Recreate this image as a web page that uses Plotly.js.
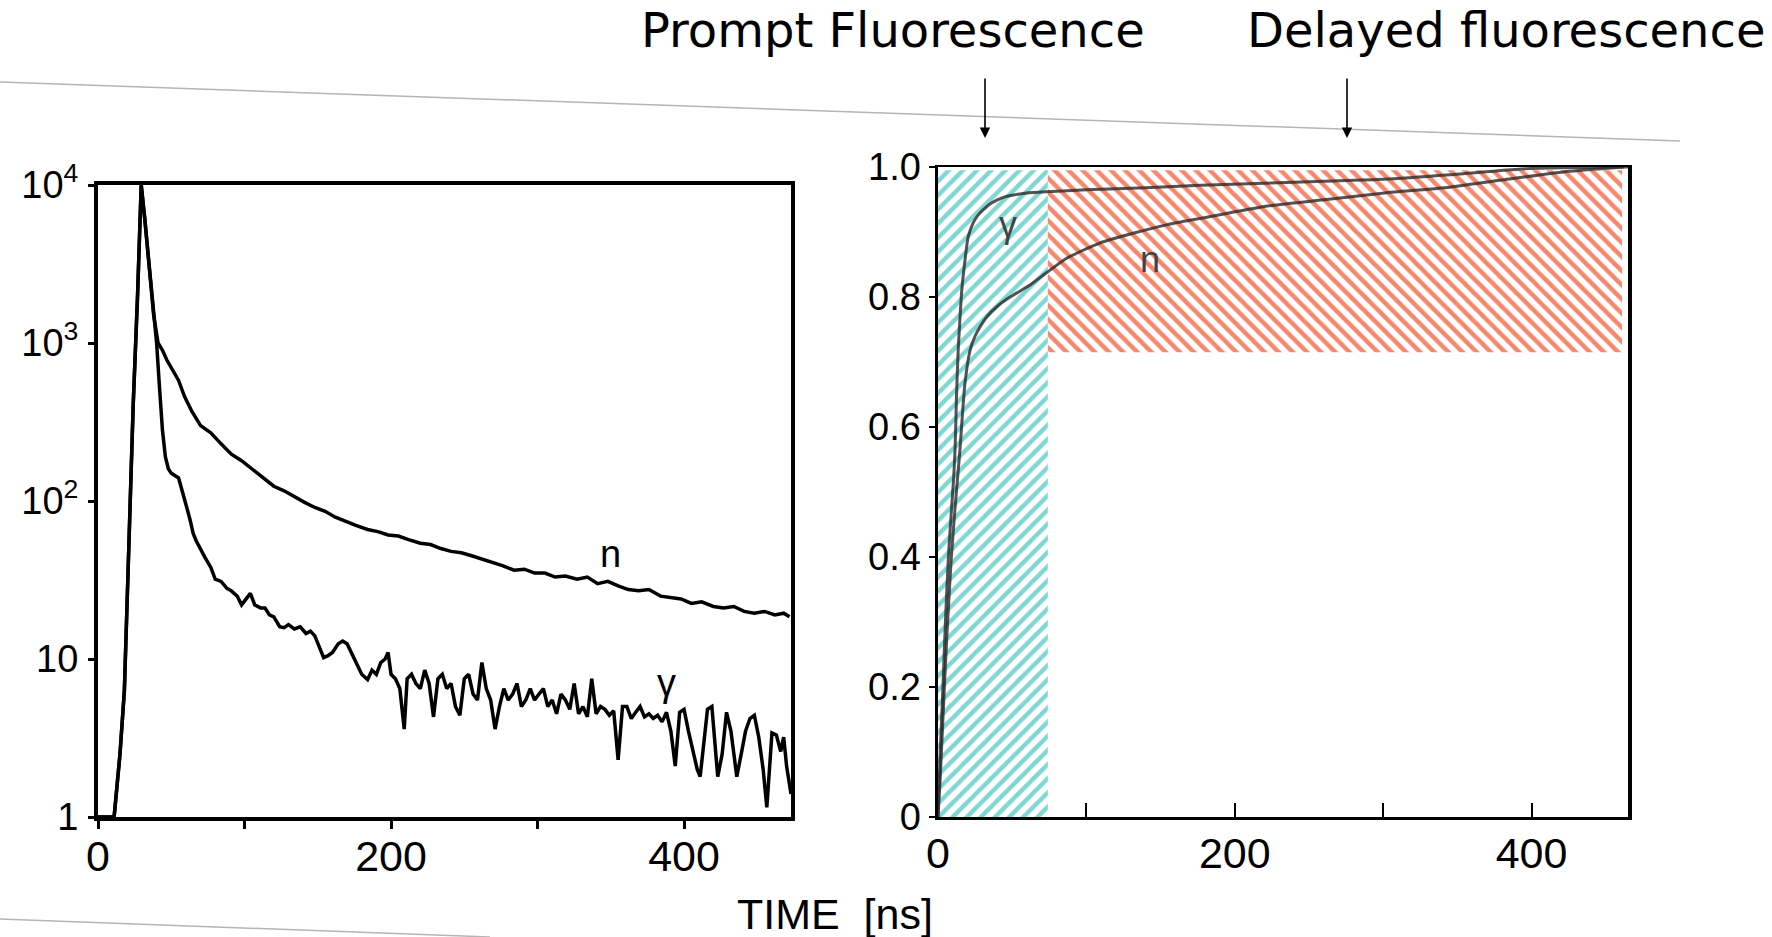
<!DOCTYPE html>
<html><head><meta charset="utf-8">
<script src="https://cdn.plot.ly/plotly-3.0.1.min.js"></script>
<style>html,body{margin:0;padding:0;background:#fff}</style>
</head><body><div id="chart" style="width:1772px;height:937px"></div>
<script>
// ---------- Left panel: fluorescence decay (counts, log scale) ----------
const nTime = [0, 11, 15, 18, 21, 24, 27, 29.5, 32, 35,
 38, 41, 44, 47, 51, 55, 59, 64, 70, 77,
 84, 91, 98, 105, 112, 120, 127, 134, 141, 148,
 155, 162, 169, 176, 184, 191, 198, 205, 212, 220,
 227, 234, 241, 248, 255, 262, 269, 276, 284, 291,
 298, 305, 312, 319, 327, 334, 341, 348, 355, 362,
 369, 376, 384, 391, 398, 405, 412, 420, 427, 434,
 441, 448, 455, 462, 468, 472];
const nCounts = [1, 1, 2.5, 6.3, 50, 400, 2000, 10000, 6000, 3000,
 1500, 1000, 900, 780, 680, 580, 460, 370, 300, 270,
 230, 198, 180, 160, 143, 124, 116, 106, 98, 91,
 86, 79, 74, 70, 66, 64, 61, 60, 57, 54,
 53, 50, 48, 47, 45, 43, 41, 39, 36.5, 37,
 35, 35, 33, 33.5, 32, 33, 30, 31, 29, 27.5,
 27, 27.5, 25, 24.5, 24, 22.5, 23, 21.5, 21, 21.5,
 20, 19.5, 20, 19, 19.5, 18.5];

const gammaTime = [0, 11, 15, 18, 21, 24, 27, 29.5, 32, 35,
 38, 40, 42, 44, 46, 48, 50, 53, 55, 57,
 59, 61, 63, 65, 67, 70, 73, 77, 80, 84,
 88, 91, 95, 98, 101, 104, 107, 111, 114, 117,
 120, 124, 127, 130, 134, 138, 142, 145, 148, 151,
 154, 157, 160, 164, 167, 170, 173, 176, 180, 184,
 187, 190, 193, 196, 198, 200, 203, 206, 209, 211,
 214, 217, 220, 223, 226, 229, 232, 235, 238, 241,
 244, 247, 250, 253, 256, 259, 262, 265, 268, 271,
 274, 277, 280, 283, 286, 289, 292, 295, 298, 301,
 304, 307, 310, 313, 316, 319, 322, 325, 328, 331,
 334, 337, 340, 343, 346, 349, 352, 355, 358, 361,
 364, 367, 370, 373, 376, 379, 382, 385, 388, 391,
 394, 397, 400, 403, 406, 409, 411, 414, 416, 419,
 421, 423, 426, 429, 432, 434, 436, 439, 442, 445,
 448, 451, 454, 456.5, 458, 460, 463, 466, 468, 470,
 473];
const gammaCounts = [1, 1, 2.5, 6.3, 50, 400, 2000, 10000, 6000, 3000,
 1500, 1000, 520, 280, 190, 160, 150, 145, 140, 120,
 100, 88, 75, 62, 56, 49, 44, 38, 32, 31,
 28, 27, 25, 22, 24, 26, 22, 21, 21, 19,
 18.5, 16, 15.8, 16.5, 15.5, 16, 14.5, 15, 14, 12,
 10.2, 10.5, 11, 12.5, 13, 12.5, 11, 9.5, 8, 7.4,
 8.5, 8, 9.5, 10, 11, 8, 7.5, 6.5, 3.6, 7.5,
 8, 7, 6.5, 8.5, 7, 4.3, 7.5, 8, 6.5, 7,
 5, 4.4, 7.5, 8, 6, 5.5, 9.5, 6.5, 5.5, 3.6,
 5, 6.5, 5.5, 6, 7, 5, 5.5, 6.5, 5.5, 6,
 6.5, 5, 5.5, 4.5, 6, 5.5, 4.8, 7, 4.5, 5,
 4.3, 7.5, 4.5, 5, 4.8, 4.4, 4.7, 2.3, 5, 5,
 4.2, 4.6, 5, 4.3, 4.5, 4.2, 4.4, 4.0, 4.6, 3.5,
 2.1, 4.6, 4.8, 3.5, 2.6, 2.0, 1.8, 3.5, 4.8, 5.0,
 3.0, 1.8, 2.5, 4.6, 3.5, 2.4, 1.8, 2.5, 3.5, 4.2,
 4.4, 3.2, 2.0, 1.15, 2.0, 3.4, 3.3, 2.6, 3.2, 2.1,
 1.4];

// ---------- Right panel: cumulative (normalised) light output ----------
const cumGammaTime = [0, 1.5, 3, 5, 7, 9, 10.5, 11.5, 12.5, 13.6,
 15, 16, 18.2, 20.3, 23.7, 27, 30.4, 35, 39.6, 45,
 50.8, 60, 73.5, 100, 140, 177, 220, 260, 300, 345,
 393, 420, 465];
const cumGamma = [0, 0.1, 0.18, 0.3, 0.4, 0.47, 0.52, 0.565, 0.65, 0.718,
 0.775, 0.81, 0.857, 0.892, 0.914, 0.926, 0.934, 0.943, 0.949, 0.954,
 0.957, 0.96, 0.962, 0.965, 0.968, 0.972, 0.975, 0.978, 0.981, 0.988,
 0.997, 0.999, 1.0];
const cumNTime = [0, 1.5, 3.5, 6, 9, 12, 14.8, 16.5, 18.2, 21.6,
 25, 28.3, 33, 39.6, 46, 53, 63, 73.5, 87, 109,
 131.5, 154, 177, 222, 262, 301, 345, 380, 420, 445,
 462];
const cumN = [0, 0.06, 0.16, 0.28, 0.4, 0.49, 0.565, 0.62, 0.668, 0.718,
 0.74, 0.754, 0.77, 0.785, 0.796, 0.806, 0.82, 0.838, 0.86, 0.883,
 0.898, 0.911, 0.921, 0.94, 0.95, 0.96, 0.969, 0.98, 0.992, 0.997,
 1.0];

// time windows (ns) and fraction bands
const promptWindow = [0, 74];
const promptBand = [0, 0.995];
const delayedWindow = [74, 461];
const delayedBand = [0.715, 0.995];

// tick labels
const logTickVals = [1, 10, 100, 1000, 10000];
const logTickText = ['1', '10', '10<sup>2</sup>', '10<sup>3</sup>', '10<sup>4</sup>'];
const timeTickVals = [0, 100, 200, 300, 400];
const timeTickText = ['0', '', '200', '', '400'];
const fracTickVals = [0, 0.2, 0.4, 0.6, 0.8, 1.0];
const fracTickText = ['0', '0.2', '0.4', '0.6', '0.8', '1.0'];

const W = 1772, H = 937;
const px = v => v / W;
const py = v => 1 - v / H;
const FONT = 'Liberation Sans, Arial, sans-serif';

function rect(xr, yr) {
  return { x: [xr[0], xr[1], xr[1], xr[0], xr[0]], y: [yr[0], yr[0], yr[1], yr[1], yr[0]] };
}
const pr = rect(promptWindow, promptBand);
const dr = rect(delayedWindow, delayedBand);

const traces = [
  { x: nTime, y: nCounts, xaxis: 'x', yaxis: 'y', mode: 'lines',
    line: { color: '#000', width: 3.5 }, hoverinfo: 'skip' },
  { x: gammaTime, y: gammaCounts, xaxis: 'x', yaxis: 'y', mode: 'lines',
    line: { color: '#000', width: 3.5 }, hoverinfo: 'skip' },
  { x: pr.x, y: pr.y, xaxis: 'x2', yaxis: 'y2', mode: 'lines', fill: 'toself',
    line: { width: 0, color: 'rgba(0,0,0,0)' }, fillcolor: 'rgba(255,255,255,0)',
    fillpattern: { shape: '/', fgcolor: '#7fd6d2', bgcolor: 'rgba(255,255,255,0)', size: 10, solidity: 0.45, fillmode: 'replace' },
    hoverinfo: 'skip' },
  { x: dr.x, y: dr.y, xaxis: 'x2', yaxis: 'y2', mode: 'lines', fill: 'toself',
    line: { width: 0, color: 'rgba(0,0,0,0)' }, fillcolor: 'rgba(255,255,255,0)',
    fillpattern: { shape: '\\', fgcolor: '#f7876c', bgcolor: 'rgba(255,255,255,0)', size: 10, solidity: 0.45, fillmode: 'replace' },
    hoverinfo: 'skip' },
  { x: cumGammaTime, y: cumGamma, xaxis: 'x2', yaxis: 'y2', mode: 'lines',
    line: { color: 'rgba(40,40,40,0.8)', width: 3, shape: 'spline', smoothing: 0.6 }, hoverinfo: 'skip' },
  { x: cumNTime, y: cumN, xaxis: 'x2', yaxis: 'y2', mode: 'lines',
    line: { color: 'rgba(40,40,40,0.8)', width: 3, shape: 'spline', smoothing: 0.6 }, hoverinfo: 'skip' }
];

const axCommon = { showgrid: false, zeroline: false, showline: true, linecolor: '#000', mirror: true, tickcolor: '#000', fixedrange: true };

const layout = {
  width: W, height: H, margin: { l: 0, r: 0, t: 0, b: 0 },
  paper_bgcolor: '#fff', plot_bgcolor: 'rgba(0,0,0,0)', showlegend: false,
  xaxis: Object.assign({}, axCommon, {
    domain: [px(98), px(791)], range: [0, 473], anchor: 'y',
    linewidth: 4, ticks: 'outside', ticklen: 8, tickwidth: 3,
    tickvals: timeTickVals, ticktext: timeTickText, ticklabelstandoff: -10,
    tickfont: { family: FONT, size: 43, color: '#000' }
  }),
  yaxis: Object.assign({}, axCommon, {
    domain: [py(817), py(185)], type: 'log', range: [0, 4], anchor: 'x',
    linewidth: 4, ticks: 'outside', ticklen: 6, tickwidth: 3,
    tickvals: logTickVals, ticktext: logTickText, ticklabelstandoff: 2,
    tickfont: { family: FONT, size: 38, color: '#000' }
  }),
  xaxis2: Object.assign({}, axCommon, {
    domain: [px(938), px(1628)], range: [0, 465], anchor: 'y2',
    linewidth: 2.5, ticks: 'inside', ticklen: 14, tickwidth: 2,
    tickvals: timeTickVals, ticktext: timeTickText, ticklabelstandoff: -3,
    tickfont: { family: FONT, size: 43, color: '#000' }
  }),
  yaxis2: Object.assign({}, axCommon, {
    domain: [py(817), py(167)], range: [0, 1], anchor: 'x2',
    linewidth: 3.5, ticks: 'outside', ticklen: 6, tickwidth: 2,
    tickvals: fracTickVals, ticktext: fracTickText, ticklabelstandoff: 0,
    tickfont: { family: FONT, size: 38, color: '#000' }
  }),
  annotations: [
    { xref: 'paper', yref: 'paper', x: px(893), y: py(30), text: 'Prompt Fluorescence', showarrow: false,
      xanchor: 'center', yanchor: 'middle', font: { family: 'DejaVu Sans, Verdana, sans-serif', size: 48, color: '#000' } },
    { xref: 'paper', yref: 'paper', x: px(1506), y: py(30), text: 'Delayed fluorescence', showarrow: false,
      xanchor: 'center', yanchor: 'middle', font: { family: 'DejaVu Sans, Verdana, sans-serif', size: 48, color: '#000' } },
    { xref: 'paper', yref: 'paper', x: px(985), y: py(138), ax: 0, ay: -61, text: '', showarrow: true,
      arrowhead: 2, arrowsize: 1.3, arrowwidth: 1.6, arrowcolor: '#000', standoff: 0 },
    { xref: 'paper', yref: 'paper', x: px(1347), y: py(138), ax: 0, ay: -61, text: '', showarrow: true,
      arrowhead: 2, arrowsize: 1.3, arrowwidth: 1.6, arrowcolor: '#000', standoff: 0 },
    { xref: 'paper', yref: 'paper', x: px(835), y: py(914), text: 'TIME  [ns]', showarrow: false,
      xanchor: 'center', yanchor: 'middle', font: { family: FONT, size: 43, color: '#000' } },
    { xref: 'x', yref: 'y', x: 349.5, y: 1.665, text: 'n', showarrow: false,
      xanchor: 'center', yanchor: 'middle', font: { family: FONT, size: 38, color: '#000' } },
    { xref: 'x', yref: 'y', x: 388, y: 0.85, text: 'γ', showarrow: false,
      xanchor: 'center', yanchor: 'middle', font: { family: FONT, size: 38, color: '#000' } },
    { xref: 'x2', yref: 'y2', x: 47.2, y: 0.912, text: 'γ', showarrow: false,
      xanchor: 'center', yanchor: 'middle', font: { family: FONT, size: 36, color: '#444' } },
    { xref: 'x2', yref: 'y2', x: 143, y: 0.858, text: 'n', showarrow: false,
      xanchor: 'center', yanchor: 'middle', font: { family: FONT, size: 36, color: '#444' } }
  ],
  shapes: [
    { type: 'line', xref: 'paper', yref: 'paper', x0: 0, y0: py(82), x1: px(1680), y1: py(141),
      line: { color: '#b5b5b5', width: 1.5 } },
    { type: 'line', xref: 'paper', yref: 'paper', x0: 0, y0: py(919), x1: px(490), y1: py(937),
      line: { color: '#b5b5b5', width: 1.5 } }
  ]
};

Plotly.newPlot('chart', traces, layout, { staticPlot: true, displayModeBar: false });
</script></body></html>
